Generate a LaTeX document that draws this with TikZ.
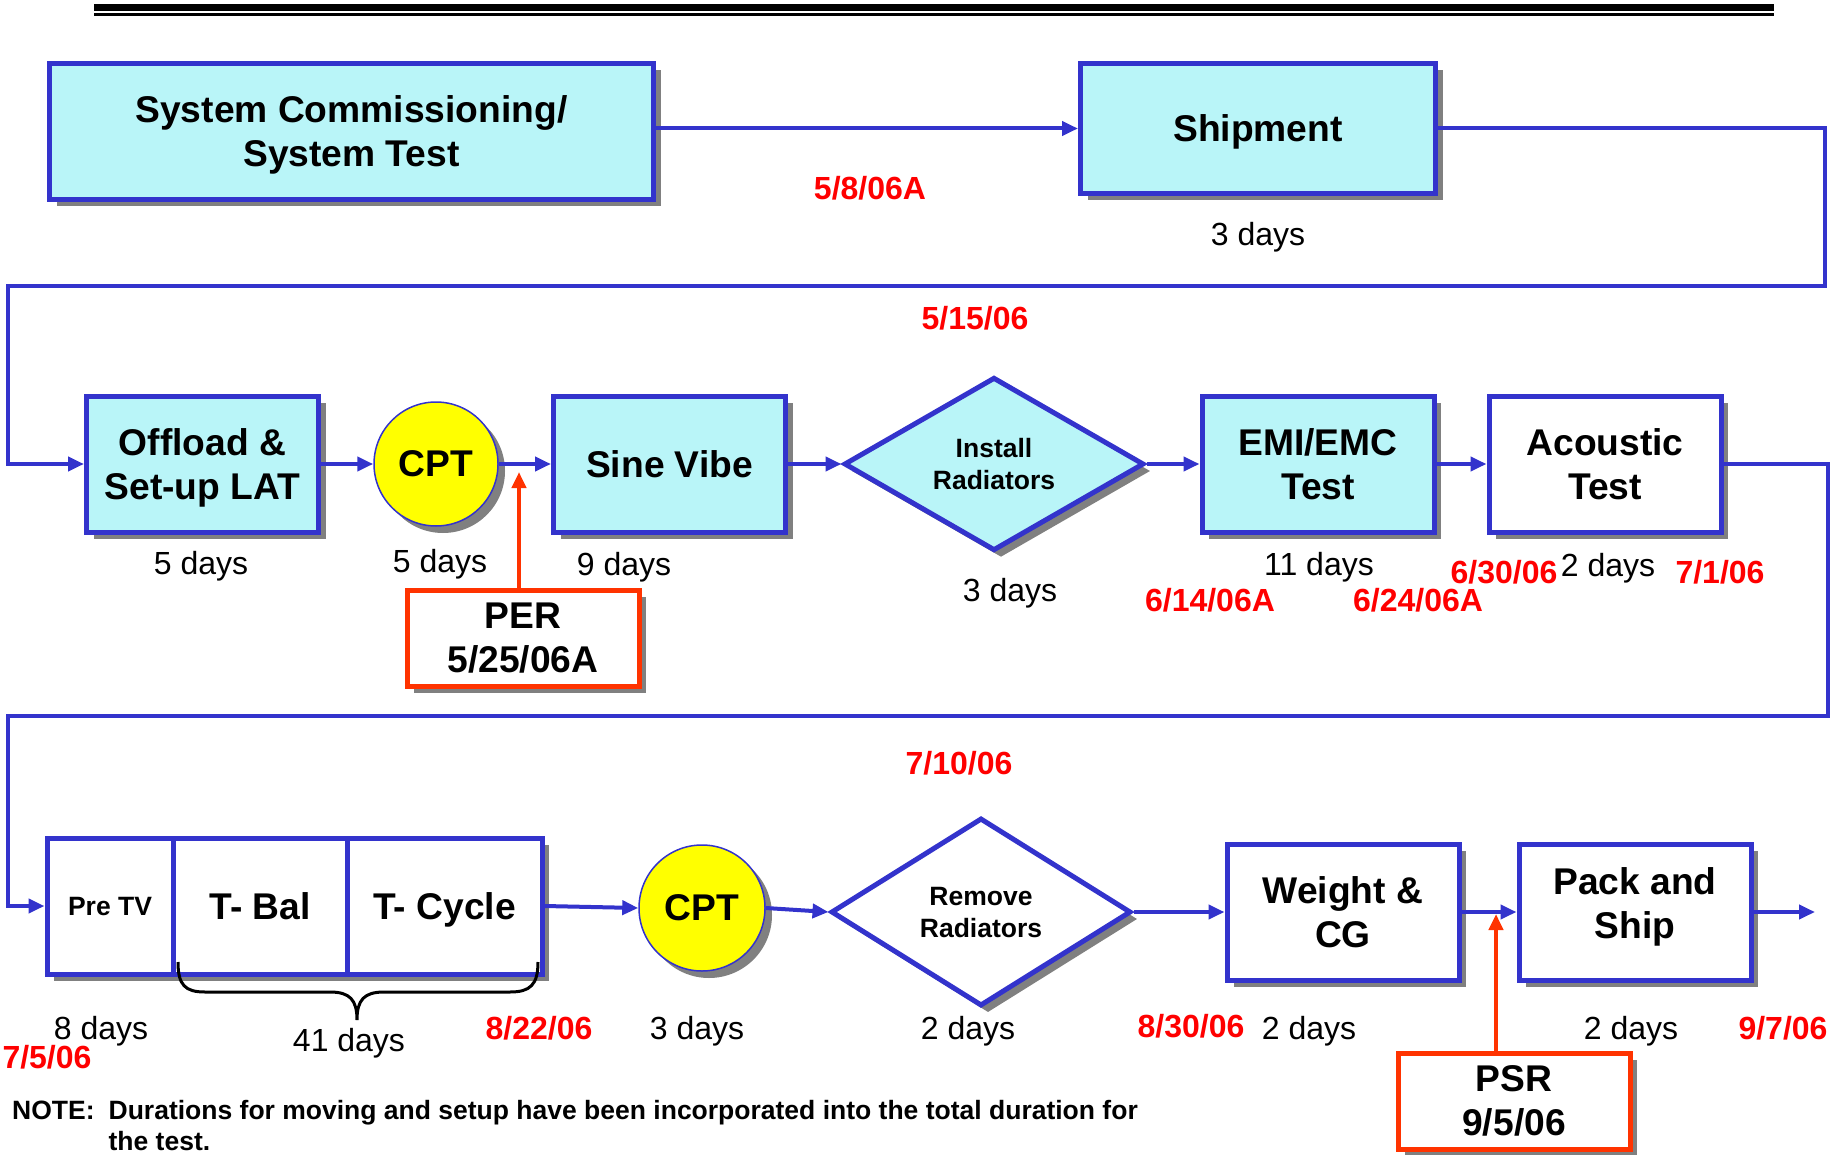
\documentclass[tikz,border=0pt]{standalone}
\usepackage{fontspec}
\setmainfont{Liberation Sans}
\usetikzlibrary{arrows.meta,shapes.geometric,shadows}
\definecolor{bblue}{RGB}{51,51,204}
\definecolor{cyanfill}{RGB}{185,245,248}
\definecolor{shgray}{RGB}{128,128,128}
\definecolor{ored}{RGB}{255,51,0}
\definecolor{dred}{RGB}{255,0,0}
\definecolor{cptyellow}{RGB}{255,255,0}
\begin{document}
\begin{tikzpicture}[x=1pt,y=-1pt,
  shad/.style={drop shadow={shadow xshift=7pt,shadow yshift=-7pt,fill=shgray,opacity=1}},
  box/.style={rectangle,draw=bblue,line width=5pt,inner sep=0pt,minimum width=232pt,minimum height=136pt,align=center,font=\bfseries\fontsize{37.2}{44}\selectfont,text depth=0pt,shad},
  cbox/.style={box,fill=cyanfill},
  wbox/.style={box,fill=white},
  rbox/.style={box,draw=ored,fill=white,minimum height=96pt},
  cpt/.style={circle,draw=bblue,line width=1.5pt,fill=cptyellow,minimum size=124pt,inner sep=0pt,font=\bfseries\fontsize{37.2}{44}\selectfont,shad},
  dia/.style={diamond,draw=bblue,line width=5pt,inner sep=0pt,align=center,font=\bfseries\fontsize{26.5}{32}\selectfont,text depth=0pt,shad},
  conn/.style={draw=bblue,line width=4pt},
  arr/.style={conn,-{Triangle[length=16pt,width=14pt]}},
  redarr/.style={draw=ored,line width=4pt,-{Triangle[length=16pt,width=14pt]}},
  days/.style={font=\fontsize{32}{38}\selectfont,inner sep=0pt,text depth=0pt},
  date/.style={font=\bfseries\fontsize{32}{38}\selectfont,text=dred,inner sep=0pt},
  brace/.style={draw=black,line width=3pt}
]
\useasboundingbox (0,0) rectangle (1838,1155);
% top rule
\draw[line width=7pt] (94,7.5) -- (1774,7.5);
\draw[line width=3pt] (94,14.7) -- (1774,14.7);

% row 1
\node[cbox,minimum width=604pt,minimum height=136pt] (sc) at (351.5,131.5) {System Commissioning/\\System Test};
\node[cbox,minimum width=355pt,minimum height=130pt] (ship) at (1258,128.5) {Shipment};

% row 2
\node[cbox] (off) at (202.5,464) {Offload \&\\Set-up LAT};
\node[cpt] (cpt1) at (436,464) {CPT};
\node[cbox] (sine) at (669.5,464) {Sine Vibe};
\node[dia,fill=cyanfill,minimum width=300pt,minimum height=166pt] (inst) at (994,464) {Install\\Radiators};
\node[cbox] (emi) at (1318,464) {EMI/EMC\\Test};
\node[wbox] (aco) at (1605,464) {Acoustic\\Test};
\node[rbox] (per) at (523,638) {PER\\5/25/06A};

% row 3
\node[wbox,minimum width=126pt,font=\bfseries\fontsize{26.5}{32}\selectfont] (pretv) at (110,906) {Pre TV};
\node[wbox,minimum width=174pt] (tbal) at (260,906) {T- Bal};
\node[wbox,minimum width=195pt] (tcyc) at (444.5,906) {T- Cycle};
\node[cpt,minimum size=126pt] (cpt2) at (702,908) {CPT};
\node[dia,fill=white,minimum width=300pt,minimum height=188pt] (rem) at (981,912) {Remove\\Radiators};
\node[wbox,text depth=-7pt] (wcg) at (1343,912) {Weight \&\\CG};
\node[wbox,text depth=17pt] (pack) at (1635,912) {Pack and\\Ship};
\node[rbox] (psr) at (1514,1101) {PSR\\9/5/06};

% connectors row 1
\draw[arr] (sc.east |- ship.west) -- (ship.west);
\coordinate (r1a) at (1825,286);
\coordinate (r1b) at (8,286);
\draw[arr] (ship.east) -- (ship.east -| r1a) -- (r1a) -- (r1b) |- (off.west);

% connectors row 2
\draw[arr] (off.east) -- (cpt1.west);
\draw[arr] (cpt1.east) -- (sine.west);
\draw[arr] (sine.east) -- (inst.west);
\draw[arr] (inst.east) -- (emi.west);
\draw[arr] (emi.east) -- (aco.west);
\coordinate (r2a) at (1828,716);
\coordinate (r2b) at (8,716);
\draw[arr] (aco.east) -- (aco.east -| r2a) -- (r2a) -- (r2b) |- (pretv.west);
\coordinate (pertip) at (519,472);
\draw[redarr] (per.north -| pertip) -- (pertip);

% connectors row 3
\draw[arr] (tcyc.east) -- (cpt2.west);
\draw[arr] (cpt2.east) -- (rem.west);
\draw[arr] (rem.east) -- (wcg.west);
\draw[arr] (wcg.east) -- (pack.west);
\coordinate (pend) at (1815,912);
\draw[arr] (pack.east) -- (pend);
\coordinate (psrtip) at (1496,914);
\draw[redarr] (psr.north -| psrtip) -- (psrtip);

% brace
\draw[brace] (178,962) .. controls (178,985) and (185,992) .. (205,992) -- (330,992)
  .. controls (350,992) and (357,1000) .. (357,1020)
  .. controls (357,1000) and (364,992) .. (384,992) -- (510,992)
  .. controls (530,992) and (538,985) .. (538,962);

% labels
\node[date] (d1) at (870,188) {5/8/06A};
\node[days] (l1) at (1258,234) {3 days};
\node[date] (d2) at (975,318) {5/15/06};
\node[days] (l2) at (201,563) {5 days};
\node[days] (l3) at (440,561) {5 days};
\node[days] (l4) at (624,564) {9 days};
\node[days] (l5) at (1010,590) {3 days};
\node[days] (l6) at (1319,564) {11 days};
\node[date] (d3) at (1210,600) {6/14/06A};
\node[date] (d4) at (1418,600) {6/24/06A};
\node[date] (d5) at (1504,572) {6/30/06};
\node[days] (l7) at (1608,565) {2 days};
\node[date] (d6) at (1720,572) {7/1/06};
\node[date] (d7) at (959,763) {7/10/06};
\node[days] (l8) at (101,1028) {8 days};
\node[date] (d8) at (47,1057) {7/5/06};
\node[days] (l9) at (349,1040) {41 days};
\node[date] (d9) at (539,1028) {8/22/06};
\node[days] (l10) at (697,1028) {3 days};
\node[days] (l11) at (968,1028) {2 days};
\node[date] (d10) at (1191,1026) {8/30/06};
\node[days] (l12) at (1309,1028) {2 days};
\node[days] (l13) at (1631,1028) {2 days};
\node[date] (d11) at (1783,1028) {9/7/06};

% note
\node[anchor=north west,inner sep=0pt,font=\bfseries\fontsize{26.5}{31}\selectfont] (note) at (12,1097.5)
  {\begin{tabular}{@{}l@{\hspace{14pt}}l@{}}NOTE: & Durations for moving and setup have been incorporated into the total duration for\\ & the test.\end{tabular}};
\end{tikzpicture}
\end{document}
